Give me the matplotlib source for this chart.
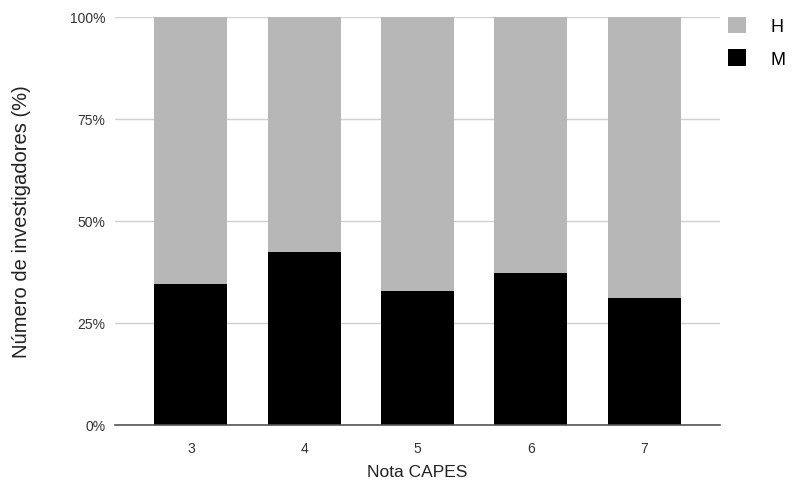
import numpy as np
import matplotlib.pyplot as plt
from matplotlib.patches import Patch

plt.rcParams['font.family'] = ['Liberation Sans', 'DejaVu Sans']

notas = ['3', '4', '5', '6', '7']
mulheres = [34.6, 42.4, 32.8, 37.2, 31.0]   # M (%)
homens = [100 - m for m in mulheres]         # H (%)

cor_h = '#b7b7b7'
cor_m = '#000000'

fig = plt.figure(figsize=(7.93, 4.85), dpi=100)
ax = fig.add_axes([0.145, 0.122, 0.763, 0.8415])

x = np.arange(len(notas))
ax.bar(x, mulheres, width=0.645, color=cor_m, zorder=3)
ax.bar(x, homens, bottom=mulheres, width=0.645, color=cor_h, zorder=3)

ax.set_xlim(-0.67, len(notas) - 1 + 0.67)
ax.set_ylim(0, 100)
ax.set_yticks([0, 25, 50, 75, 100])
ax.set_yticklabels(['0%', '25%', '50%', '75%', '100%'], fontsize=10, color='#333333')
ax.set_xticks(x)
ax.set_xticklabels(notas, fontsize=10, color='#333333')
ax.tick_params(length=0, pad=12)
ax.tick_params(axis='y', pad=7)

ax.grid(axis='y', color='#d0d0d0', linewidth=1, zorder=0)
for s in ['top', 'right', 'left']:
    ax.spines[s].set_visible(False)
ax.spines['bottom'].set_color('#555555')
ax.spines['bottom'].set_linewidth(1.2)
ax.spines['bottom'].set_zorder(4)

ax.set_xlabel('Nota CAPES', fontsize=12.5, color='#222222', labelpad=6)
ax.set_ylabel('Número de investigadores (%)', fontsize=14.5, color='#222222', labelpad=28)

handles = [Patch(facecolor=cor_h, label='H'), Patch(facecolor=cor_m, label='M')]
fig.legend(handles=handles, loc='upper left', bbox_to_anchor=(0.897, 0.997),
           frameon=False, fontsize=13, handlelength=1.0, handleheight=1.0,
           labelspacing=0.8, handletextpad=1.4)

fig.savefig('out.png', dpi=100)
